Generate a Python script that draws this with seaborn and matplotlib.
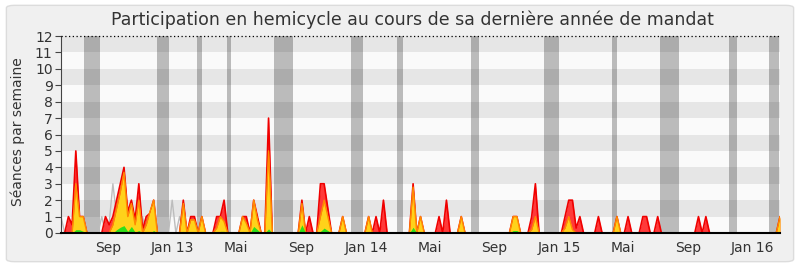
import numpy as np
import pandas as pd
import matplotlib
matplotlib.use("Agg")
import matplotlib.pyplot as plt
import seaborn as sns
from matplotlib.patches import FancyBboxPatch

# ---------------- data (weekly values, week 0 = 2012-06-04) ----------------
start_date = "2012-06-04"
n_weeks = 195

red_total = {2: 1, 3: 0.5, 4: 5, 5: 1, 6: 1, 12: 1, 13: 0.5, 14: 1, 15: 2, 16: 3,
             17: 4, 18: 1.3, 19: 2, 20: 0.8, 21: 3, 22: 0.2, 23: 1, 24: 1.2, 25: 2,
             33: 2, 35: 1, 36: 1, 38: 1, 42: 1, 43: 1, 44: 2, 49: 1, 50: 1, 52: 2,
             53: 1, 56: 7, 65: 2, 67: 1, 70: 3, 71: 3, 72: 1.5, 76: 1, 83: 1, 85: 1,
             87: 2, 95: 3, 97: 1, 102: 1, 104: 2, 108: 1, 122: 1, 123: 1, 127: 1,
             128: 3, 136: 1, 137: 2, 138: 2, 139: 0.3, 140: 1, 145: 1, 150: 1,
             153: 1, 157: 1, 158: 1, 161: 1, 172: 1, 174: 1, 194: 1}

yellow_part = {4: 3, 5: 1, 6: 1, 14: 0.5, 15: 1.5, 16: 2.5, 17: 3.7, 18: 1, 19: 1.8,
               20: 0.5, 21: 2, 23: 0.5, 24: 1.3, 25: 2, 33: 1.8, 35: 0.8, 36: 0.8,
               38: 1, 42: 0.3, 43: 1, 44: 0.7, 49: 1, 50: 0.6, 52: 2, 53: 0.8, 56: 5,
               65: 1.8, 70: 1, 71: 2, 72: 1, 76: 1, 83: 1, 95: 2.8, 97: 1, 108: 1,
               122: 1, 123: 1, 127: 0.2, 128: 1, 136: 0.3, 137: 1, 138: 0.2, 150: 1,
               194: 1}

green_part = {4: 0.2, 5: 0.2, 6: 0.1, 15: 0.2, 16: 0.35, 17: 0.45, 18: 0.1, 19: 0.4,
              20: 0.05, 21: 0.15, 25: 0.15, 33: 0.1, 43: 0.1, 44: 0.1, 49: 0.1,
              52: 0.4, 53: 0.2, 56: 0.25, 65: 0.5, 70: 0.1, 71: 0.3, 72: 0.15,
              76: 0.1, 83: 0.1, 95: 0.35, 97: 0.1, 108: 0.1, 122: 0.15, 123: 0.15,
              128: 0.05, 137: 0.05, 150: 0.1, 194: 0.05}

gray_median = {0: 1, 11: 1, 13: 0.6, 14: 3, 15: 1, 22: 1, 30: 2, 32: 1}

# parliamentary breaks, in weeks since start_date
vacations = [(6.2, 10.5), (25.9, 29.1), (36.7, 38.0), (44.7, 45.8), (57.4, 62.5),
             (78.2, 81.4), (90.6, 92.2), (110.5, 112.7), (130.2, 134.5),
             (148.8, 150.1), (161.7, 166.8), (180.2, 182.4), (191.1, 193.8)]

tick_dates = ["2012-09-01", "2013-01-01", "2013-05-01", "2013-09-01", "2014-01-01",
              "2014-05-01", "2014-09-01", "2015-01-01", "2015-05-01", "2015-09-01",
              "2016-01-01"]
tick_labels = ["Sep", "Jan 13", "Mai", "Sep", "Jan 14", "Mai", "Sep", "Jan 15",
               "Mai", "Sep", "Jan 16"]

title = "Participation en hemicycle au cours de sa dernière année de mandat"
ylabel = "Séances par semaine"

# ---------------- build frame ----------------
weeks = np.arange(n_weeks)
def dense(d):
    arr = np.zeros(n_weeks)
    for k, v in d.items():
        arr[k] = v
    return arr

df = pd.DataFrame({"week": weeks, "red": dense(red_total),
                   "yellow": dense(yellow_part), "green": dense(green_part),
                   "gray": dense(gray_median)})

t0 = pd.Timestamp(start_date)
tick_pos = [(pd.Timestamp(d) - t0).days / 7 for d in tick_dates]

# ---------------- plot ----------------
sns.set_style("white")
plt.rcParams["font.family"] = ["DejaVu Sans"]

fig = plt.figure(figsize=(8, 2.67), dpi=100)
fig.patch.set_facecolor("white")
bg = FancyBboxPatch((0.008, 0.02), 0.984, 0.96, boxstyle="round,pad=0,rounding_size=0.01",
                    transform=fig.transFigure, facecolor="#f0f0f0", edgecolor="#dcdcdc",
                    linewidth=1, zorder=-10)
fig.patches.append(bg)

ax = fig.add_axes([61 / 800, 1 - 233 / 267, (780 - 61) / 800, (233 - 36) / 267])
ax.set_facecolor("#fafafa")

for k in range(12):
    ax.axhspan(k, k + 1, color="#e6e6e6" if k % 2 == 1 else "#fafafa", lw=0, zorder=0)
for a, b in vacations:
    ax.axvspan(a, b, color="black", alpha=0.25, lw=0, zorder=1)

sns.lineplot(data=df, x="week", y="gray", color="#bdbdbd", lw=1, ax=ax, zorder=2)
ax.fill_between(df["week"], 0, df["red"], color="#ff3a3a", lw=0, zorder=3)
sns.lineplot(data=df, x="week", y="red", color="#f00000", lw=1.2, ax=ax, zorder=4)
ax.fill_between(df["week"], 0, df["yellow"], color="#ffd21a", lw=0, zorder=5)
sns.lineplot(data=df, x="week", y="yellow", color="#ff8a00", lw=1, ax=ax, zorder=6)
ax.fill_between(df["week"], 0, df["green"], color="#2ee01a", lw=0, zorder=7)

ax.axhline(12, color="black", ls=(0, (1, 2)), lw=0.9, zorder=8, clip_on=False)

ax.set_xlim(0, 194)
ax.set_ylim(0, 12)
ax.set_yticks(range(0, 13))
ax.set_yticklabels([str(v) for v in range(0, 13)], fontsize=10, color="#333333")
ax.set_xticks(tick_pos)
ax.set_xticklabels(tick_labels, fontsize=10, color="#333333")
ax.tick_params(axis="y", length=4, width=0.8, color="#444444", pad=2, left=True)
ax.tick_params(axis="x", length=0, pad=6)
ax.set_xlabel("")
ax.set_ylabel("")

for s in ["top", "right"]:
    ax.spines[s].set_visible(False)
ax.spines["left"].set_color("#444444")
ax.spines["left"].set_linewidth(0.8)
ax.spines["bottom"].set_color("black")
ax.spines["bottom"].set_linewidth(1.5)
ax.spines["bottom"].set_zorder(10)

fig.text(0.516, 1 - 20 / 267, title, ha="center", va="center", fontsize=12.5, color="#333333")
fig.text(18 / 800, 1 - 132 / 267, ylabel, ha="center", va="center", rotation=90,
         fontsize=10, color="#333333")

fig.savefig("out.png", dpi=100, facecolor=fig.get_facecolor())
